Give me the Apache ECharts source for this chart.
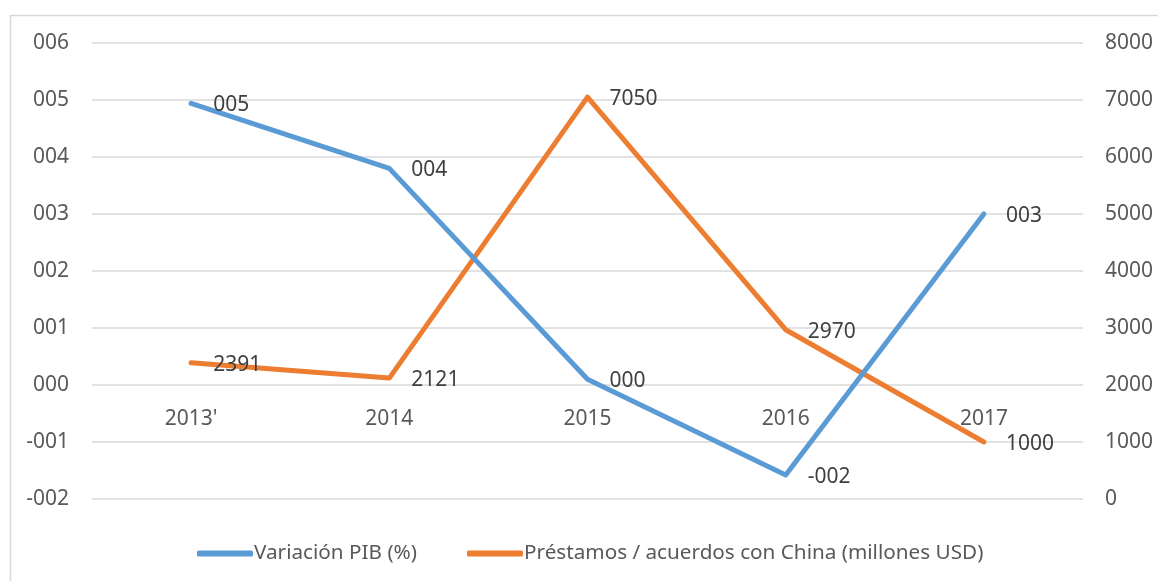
<!DOCTYPE html>
<html>
<head>
<meta charset="utf-8">
<script src="https://cdn.jsdelivr.net/npm/echarts@6/dist/echarts.min.js"></script>
<style>
html,body{margin:0;padding:0;background:#fff;}
#c{width:1158px;height:581px;}
</style>
</head>
<body>
<div id="c"></div>
<script>
const categories = ["2013'", "2014", "2015", "2016", "2017"];
const pibValues = [4.94, 3.80, 0.10, -1.58, 3.00];
const loanValues = [2391, 2121, 7050, 2970, 1000];
const seriesNames = ["Variación PIB (%)", "Préstamos / acuerdos con China (millones USD)"];

function fmt3(v) {
  const r = Math.round(v);
  const s = String(Math.abs(r)).padStart(3, '0');
  return (r < 0 ? '-' : '') + s;
}

const FONT = '"Noto Sans", sans-serif';
const FS = 21;
const chart = echarts.init(document.getElementById('c'), null, {renderer: 'canvas'});
chart.setOption({
  animation: false,
  backgroundColor: '#ffffff',
  graphic: [{
    type: 'rect', left: 8, top: 13,
    shape: {width: 1170, height: 590},
    style: {fill: 'none', stroke: '#d9d9d9', lineWidth: 1.5},
    silent: true
  }],
  grid: {left: 92, right: 75, top: 43, bottom: 82, containLabel: false},
  legend: {
    left: 192, top: 538,
    itemWidth: 56, itemHeight: 6, itemGap: 50,
    icon: 'roundRect',
    textStyle: {fontFamily: FONT, fontSize: 20.7, color: '#595959', padding: [0,0,0,-4]},
    data: seriesNames
  },
  xAxis: {
    type: 'category',
    data: categories,
    boundaryGap: true,
    position: 'bottom',
    offset: -114,
    axisLine: {show: false, onZero: false},
    axisTick: {show: false},
    axisLabel: {margin: 24, fontFamily: FONT, fontSize: FS, color: '#595959'},
    splitLine: {show: false}
  },
  yAxis: [{
    type: 'value', min: -2, max: 6, interval: 1,
    axisLine: {show: false}, axisTick: {show: false},
    axisLabel: {margin: 23, fontFamily: FONT, fontSize: FS, color: '#595959', formatter: v => fmt3(v)},
    splitLine: {show: true, lineStyle: {color: '#d9d9d9', width: 1.5}}
  }, {
    type: 'value', min: 0, max: 8000, interval: 1000,
    axisLine: {show: false}, axisTick: {show: false},
    axisLabel: {margin: 22, fontFamily: FONT, fontSize: FS, color: '#595959', formatter: v => String(v)},
    splitLine: {show: false}
  }],
  series: [{
    name: seriesNames[0],
    type: 'line',
    yAxisIndex: 0,
    data: pibValues,
    color: '#5B9BD5',
    symbol: 'circle', symbolSize: 0.1,
    lineStyle: {width: 5, color: '#5B9BD5', cap: 'round', join: 'round'},
    itemStyle: {color: '#5B9BD5'},
    label: {show: true, position: 'right', distance: 22, offset: [0, 2], fontFamily: FONT, fontSize: FS, color: '#404040',
      formatter: p => fmt3(p.value)},
    z: 3
  }, {
    name: seriesNames[1],
    type: 'line',
    yAxisIndex: 1,
    data: loanValues,
    color: '#ED7D31',
    symbol: 'circle', symbolSize: 0.1,
    lineStyle: {width: 5, color: '#ED7D31', cap: 'round', join: 'round'},
    itemStyle: {color: '#ED7D31'},
    label: {show: true, position: 'right', distance: 22, offset: [0, 2], fontFamily: FONT, fontSize: FS, color: '#404040'},
    z: 2
  }]
});
</script>
</body>
</html>
